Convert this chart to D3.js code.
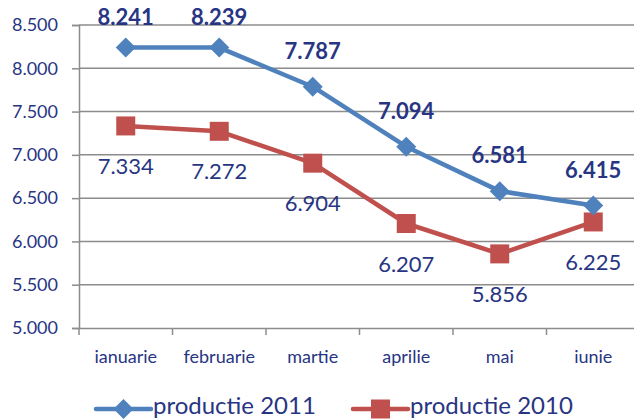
<!DOCTYPE html>
<html><head><meta charset="utf-8">
<script src="https://cdn.jsdelivr.net/npm/d3@7"></script>
<style>
html,body{margin:0;padding:0;background:#fff;overflow:hidden}
svg{display:block;font-family:Lato,"Open Sans",sans-serif}
</style></head>
<body>
<svg id="chart" width="634" height="420"></svg>
<script>
const categories = ["ianuarie","februarie","martie","aprilie","mai","iunie"];
const productie2011 = [8241, 8239, 7787, 7094, 6581, 6415];
const productie2010 = [7334, 7272, 6904, 6207, 5856, 6225];
const yTicks = [5000, 5500, 6000, 6500, 7000, 7500, 8000, 8500];
const seriesNames = ["productie 2011", "productie 2010"];

(function(){
const textColor = "#283583";
const blue = "#4F81BD", red = "#C0504D", grid = "#8c8c8c";

const svg = d3.select("#chart");
const pLeft = 79, pRight = 640, pTop = 25, pBottom = 328;

const loc = d3.formatLocale({decimal: ",", thousands: ".", grouping: [3], currency: ["", ""]});
const fmt = loc.format(",");

const x = d3.scaleBand().domain(categories).range([pLeft, pRight]);
const y = d3.scaleLinear().domain([5000, 8500]).range([pBottom, pTop]);

// gridlines
svg.append("g").selectAll("line").data(yTicks.filter(d => d > 5000)).join("line")
  .attr("x1", pLeft).attr("x2", pRight)
  .attr("y1", d => y(d)).attr("y2", d => y(d))
  .attr("stroke", grid).attr("stroke-width", 1.5);

// y axis
const yAxis = svg.append("g").attr("transform", `translate(${pLeft},0)`)
  .call(d3.axisLeft(y).tickValues(yTicks).tickFormat(fmt).tickSize(7).tickPadding(14));
yAxis.select(".domain").attr("stroke", grid).attr("stroke-width", 1.5);
yAxis.selectAll(".tick line").attr("stroke", grid).attr("stroke-width", 1.5);
yAxis.selectAll("text").attr("fill", textColor).style("font-size", "18px")
  .style("font-family", "Lato, sans-serif");

// x axis
const xAxis = svg.append("g").attr("transform", `translate(0,${pBottom})`)
  .call(d3.axisBottom(x).tickSize(0).tickPadding(22));
xAxis.select(".domain").attr("stroke", grid).attr("stroke-width", 1.5);
xAxis.selectAll("text").attr("fill", textColor).style("font-size", "18px")
  .style("font-family", "Lato, sans-serif");
// boundary ticks
svg.append("g").selectAll("line").data(d3.range(categories.length + 1)).join("line")
  .attr("x1", i => pLeft + i * x.step()).attr("x2", i => pLeft + i * x.step())
  .attr("y1", pBottom).attr("y2", pBottom + 7)
  .attr("stroke", grid).attr("stroke-width", 1.5);

const cx = c => x(c) + x.bandwidth() / 2;
const line = d3.line().x((d, i) => cx(categories[i])).y(d => y(d));

svg.append("path").datum(productie2010).attr("d", line)
  .attr("fill", "none").attr("stroke", red).attr("stroke-width", 4.5).attr("stroke-linejoin", "round");
svg.append("path").datum(productie2011).attr("d", line)
  .attr("fill", "none").attr("stroke", blue).attr("stroke-width", 4.5).attr("stroke-linejoin", "round");

const sq = 19, dm = 10;
svg.append("g").selectAll("rect").data(productie2010).join("rect")
  .attr("x", (d, i) => cx(categories[i]) - sq / 2).attr("y", d => y(d) - sq / 2)
  .attr("width", sq).attr("height", sq).attr("fill", red);
svg.append("g").selectAll("path").data(productie2011).join("path")
  .attr("d", (d, i) => { const px = cx(categories[i]), py = y(d);
    return `M${px},${py - dm}L${px + dm},${py}L${px},${py + dm}L${px - dm},${py}Z`; })
  .attr("fill", blue);

// labels
svg.append("g").selectAll("text").data(productie2011).join("text")
  .attr("x", (d, i) => cx(categories[i]))
  .attr("y", d => Math.max(25, y(d) - 28))
  .attr("text-anchor", "middle").attr("fill", textColor)
  .style("font-size", "22px").style("font-weight", "bold").text(d => fmt(d));
svg.append("g").selectAll("text").data(productie2010).join("text")
  .attr("x", (d, i) => cx(categories[i]))
  .attr("y", d => y(d) + 48)
  .attr("text-anchor", "middle").attr("fill", textColor)
  .style("font-size", "22px").text(d => fmt(d));

// legend
const legend = [{name: seriesNames[0], color: blue, shape: "diamond", lx: 96},
                {name: seriesNames[1], color: red, shape: "square", lx: 353}];
const ly = 409;
legend.forEach(l => {
  const g = svg.append("g");
  g.append("line").attr("x1", l.lx).attr("x2", l.lx + 55).attr("y1", ly).attr("y2", ly)
    .attr("stroke", l.color).attr("stroke-width", 4.5).attr("stroke-linecap", "round");
  const mx = l.lx + 27.5;
  if (l.shape === "diamond") {
    g.append("path").attr("d", `M${mx},${ly - dm}L${mx + dm},${ly}L${mx},${ly + dm}L${mx - dm},${ly}Z`).attr("fill", l.color);
  } else {
    g.append("rect").attr("x", mx - sq / 2).attr("y", ly - sq / 2).attr("width", sq).attr("height", sq).attr("fill", l.color);
  }
  g.append("text").attr("x", l.lx + 57).attr("y", 414).attr("fill", textColor)
    .style("font-size", "24px").text(l.name);
});
})();
</script>
</body></html>
